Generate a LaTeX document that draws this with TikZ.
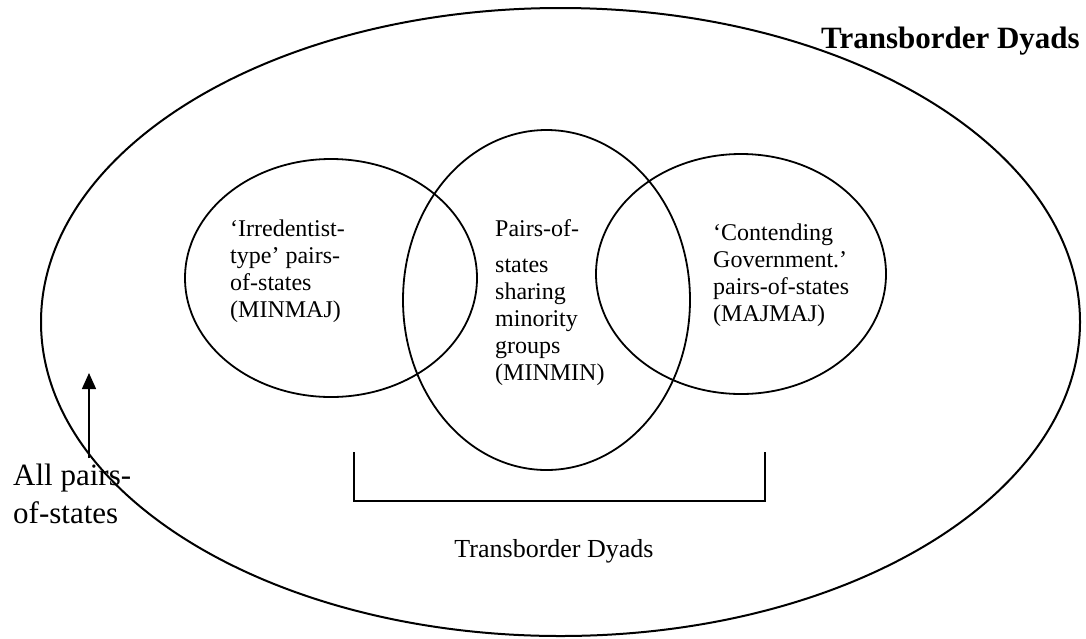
\documentclass[tikz,border=0pt]{standalone}
\usepackage{fontspec}
\setmainfont{Liberation Serif}
\usetikzlibrary{shapes.geometric,arrows.meta}
\begin{document}
\begin{tikzpicture}[x=1pt,y=-1pt,
  ring/.style={draw=black,ellipse,inner sep=0pt,line width=1.8pt},
  label24/.style={anchor=base west,align=left,inner sep=0pt,font=\fontsize{24}{27}\selectfont},
  bigtext/.style={inner sep=0pt,font=\fontsize{31}{38}\selectfont}]
\useasboundingbox (0,0) rectangle (1086,638);
\node[ring,line width=2pt,minimum width=1039pt,minimum height=628pt] (all) at (560.5,322) {};
\node[ring,minimum width=292pt,minimum height=238pt] (irr) at (331,278) {};
\node[ring,minimum width=287pt,minimum height=340pt] (minmin) at (546.5,300) {};
\node[ring,minimum width=290pt,minimum height=240pt] (majmaj) at (741,274) {};
\node[label24] (irrtxt) at (230,317) {‘Irredentist-\\type’ pairs-\\of-states\\(MINMAJ)};
\node[label24] (mintxt) at (495,380) {Pairs-of-\\[9pt]states\\sharing\\minority\\groups\\(MINMIN)};
\node[label24] (majtxt) at (713,321) {‘Contending\\Government.’\\pairs-of-states\\(MAJMAJ)};
\node[bigtext,anchor=base east,font=\fontsize{31}{38}\selectfont\bfseries] (title) at (1080,48) {Transborder Dyads};
\node[bigtext,anchor=base west,align=left] (alltxt) at (13,523) {All pairs-\\of-states};
\coordinate (bl) at (354,452);
\coordinate (br) at (765,452);
\coordinate (bb) at (765,501);
\draw[line width=1.5pt] (bl) |- (bb) -- (br);
\node[inner sep=0pt,anchor=base,font=\fontsize{26}{30}\selectfont] (tdtxt) at (554,557) {Transborder Dyads};
\coordinate (atail) at (89,458);
\coordinate (ahead) at (89,373);
\draw[line width=1.5pt,-{Triangle[length=16pt,width=14pt]}] (atail) -- (ahead);
\end{tikzpicture}
\end{document}
